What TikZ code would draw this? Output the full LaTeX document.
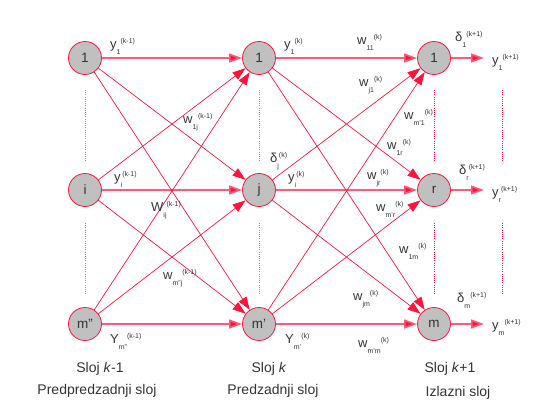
\documentclass[tikz,border=0pt]{standalone}
\usepackage{fontspec}
\setmainfont{Liberation Sans}
\usetikzlibrary{arrows.meta}
\definecolor{edgered}{RGB}{255,20,60}
\definecolor{hred}{RGB}{255,90,120}
\definecolor{nodegray}{RGB}{192,192,192}
\definecolor{txt}{RGB}{51,51,51}
\newcommand\lb[3]{#1\raisebox{-6.5pt}{\fontsize{7}{7}\selectfont #2}\raisebox{5pt}{\fontsize{7}{7}\selectfont #3}}
\begin{document}
\begin{tikzpicture}[x=1pt,y=-1pt,
  neuron/.style={circle,draw=edgered,line width=0.8pt,fill=nodegray,minimum size=33pt,inner sep=0pt,font=\fontsize{13.5}{13.5}\selectfont,text=txt},
  conn/.style={draw=edgered,line width=0.7pt,-{Triangle[length=13pt,width=9pt]}},
  hconn/.style={draw=hred,line width=1.6pt,-{Triangle[length=13pt,width=9pt,fill=edgered]},color=hred},
  lab/.style={anchor=base west,inner sep=0pt,text=txt,font=\fontsize{13}{13}\selectfont},
  captext/.style={text=txt,font=\fontsize{14}{14}\selectfont,inner sep=0pt},
  dotline/.style={draw=edgered,dash pattern=on 1pt off 1.2pt,line width=0.8pt}]
\useasboundingbox (0,0) rectangle (556,418);
% nodes
\node[neuron] (a1) at (85,58) {1};
\node[neuron] (ai) at (85,190) {i};
\node[neuron] (am) at (85,324) {m''};
\node[neuron] (b1) at (259,58) {1};
\node[neuron] (bj) at (259,190) {j};
\node[neuron] (bm) at (259,324) {m'};
\node[neuron] (c1) at (434,58) {1};
\node[neuron] (cr) at (434,190) {r};
\node[neuron] (cm) at (434,324) {m};
\coordinate (o1) at (484,58);
\coordinate (or) at (484,190);
\coordinate (om) at (484,324);
% dotted lines
\draw[dotline,draw=hred] (85,90) -- (85,162);
\draw[dotline,draw=hred] (85,223) -- (85,295);
\draw[dotline,draw=hred] (259,90) -- (259,162);
\draw[dotline,draw=hred] (259,223) -- (259,295);
\draw[dotline] (434,90) -- (434,162);
\draw[dotline] (434,223) -- (434,295);
\draw[dotline] (502,90) -- (502,162);
\draw[dotline] (502,223) -- (502,295);
% edges layer 1 -> 2
\draw[hconn] (a1) -- (b1);
\draw[hconn] (ai) -- (bj);
\draw[hconn] (am) -- (bm);
\draw[conn] (a1) -- (bj);
\draw[conn] (a1) -- (bm);
\draw[conn] (ai) -- (b1);
\draw[conn] (ai) -- (bm);
\draw[conn] (am) -- (b1);
\draw[conn] (am) -- (bj);
% edges layer 2 -> 3
\draw[hconn] (b1) -- (c1);
\draw[hconn] (bj) -- (cr);
\draw[hconn] (bm) -- (cm);
\draw[conn] (b1) -- (cr);
\draw[conn] (b1) -- (cm);
\draw[conn] (bj) -- (c1);
\draw[conn] (bj) -- (cm);
\draw[conn] (bm) -- (c1);
\draw[conn] (bm) -- (cr);
% outputs
\draw[hconn] (c1) -- (o1);
\draw[hconn] (cr) -- (or);
\draw[hconn] (cm) -- (om);
% labels layer 1
\node[lab] (l1) at (110,48) {\lb{y}{1}{(k-1)}};
\node[lab] (l2) at (114,181) {\lb{y}{i}{(k-1)}};
\node[lab] (l3) at (151,211) {\lb{W}{ij}{(k-1)}};
\node[lab] (l4) at (183,123) {\lb{w}{1j}{(k-1)}};
\node[lab] (l5) at (163,279) {\lb{w}{m''j}{(k-1)}};
\node[lab] (l6) at (110,343) {\lb{Y}{m''}{(k-1)}};
% labels layer 2
\node[lab] (l7) at (284,48) {\lb{y}{1}{(k)}};
\node[lab] (l8) at (270,162) {\lb{δ}{j}{(k)}};
\node[lab] (l9) at (288,181) {\lb{y}{i}{(k)}};
\node[lab] (l10) at (285,343) {\lb{Y}{m'}{(k)}};
% labels layer 2 -> 3
\node[lab] (l11) at (357,44) {\lb{w}{11}{(k)}};
\node[lab] (l12) at (359,86) {\lb{w}{j1}{(k)}};
\node[lab] (l13) at (404,119) {\lb{w}{m'1}{(k)}};
\node[lab] (l14) at (387,149) {\lb{w}{1r}{(k)}};
\node[lab] (l15) at (367,179) {\lb{w}{jr}{(k)}};
\node[lab] (l16) at (376,211) {\lb{w}{m'r}{(k)}};
\node[lab] (l17) at (399,253) {\lb{w}{1m}{(k)}};
\node[lab] (l18) at (353,300) {\lb{w}{jm}{(k)}};
\node[lab] (l19) at (358,347) {\lb{w}{m'm}{(k)}};
% output labels
\node[lab] (l20) at (455,41) {\lb{δ}{1}{(k+1)}};
\node[lab] (l21) at (492,64) {\lb{y}{1}{(k+1)}};
\node[lab] (l22) at (459,174) {\lb{δ}{r}{(k+1)}};
\node[lab] (l23) at (492,196) {\lb{y}{r}{(k+1)}};
\node[lab] (l24) at (457,302) {\lb{δ}{m}{(k+1)}};
\node[lab] (l25) at (492,329) {\lb{y}{m}{(k+1)}};
% captions
\node[captext] (s1) at (100,369) {Sloj \textit{k}-1};
\node[captext] (s2) at (97,391) {Predpredzadnji sloj};
\node[captext] (s3) at (269,369) {Sloj \textit{k}};
\node[captext] (s4) at (273,391) {Predzadnji sloj};
\node[captext] (s5) at (450,369) {Sloj \textit{k}+1};
\node[captext] (s6) at (458,393) {Izlazni sloj};
\end{tikzpicture}
\end{document}
